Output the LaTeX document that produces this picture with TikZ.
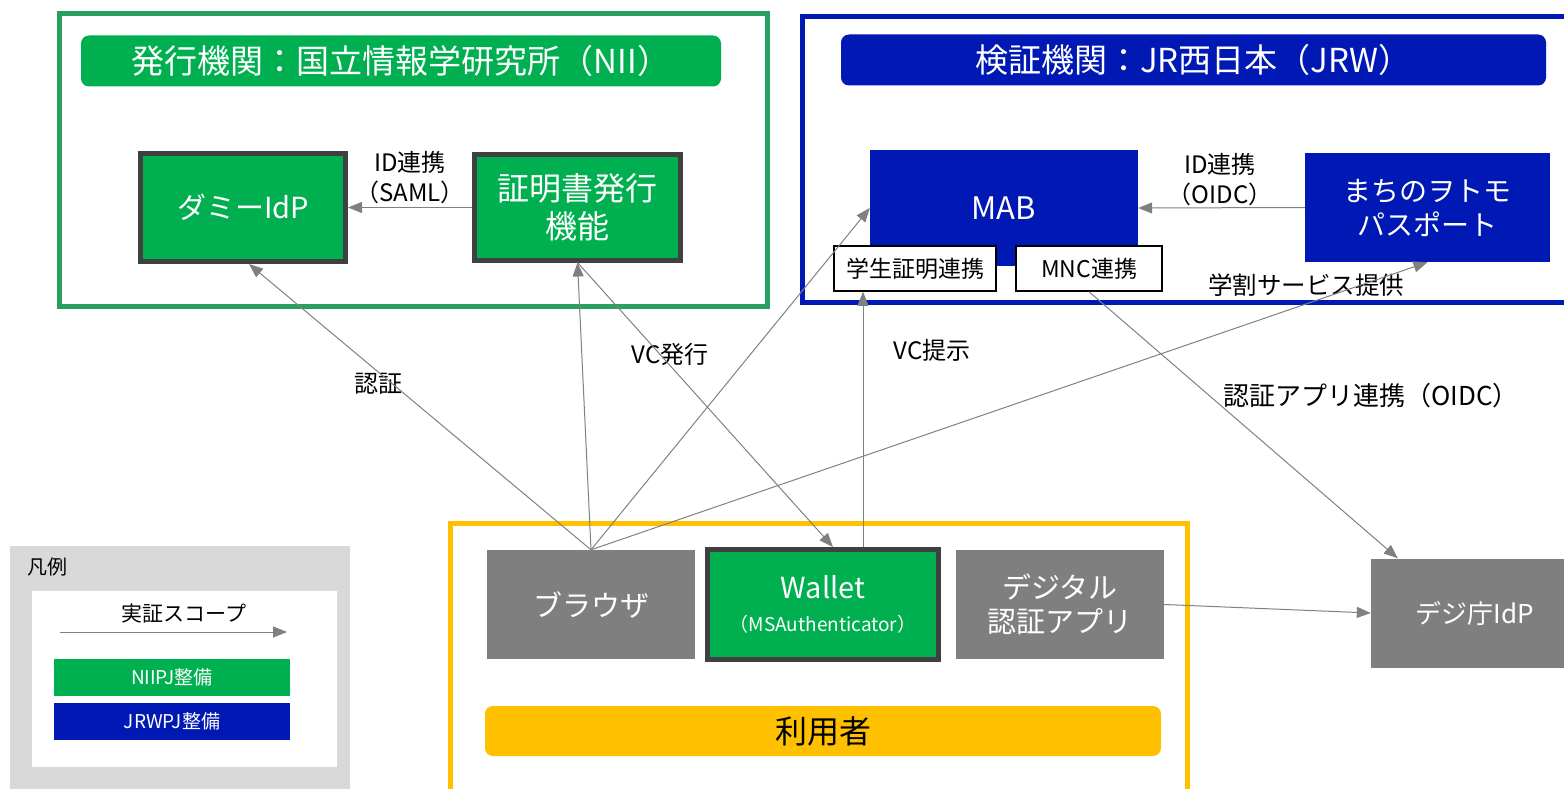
\documentclass[tikz,border=0pt]{standalone}
\usepackage{fontspec}
\setmainfont{Noto Sans CJK JP}
\usetikzlibrary{arrows.meta, positioning}

\definecolor{niigreen}{RGB}{0,176,80}
\definecolor{niiframe}{RGB}{40,160,95}
\definecolor{jrwblue}{RGB}{0,24,180}
\definecolor{usergold}{RGB}{255,192,0}
\definecolor{devgray}{RGB}{127,127,127}
\definecolor{edgegray}{RGB}{128,128,128}
\definecolor{frameline}{RGB}{64,64,64}
\definecolor{legendgray}{RGB}{217,217,217}

\newcommand{\fsz}[2]{\fontsize{#1pt}{#2pt}\selectfont}

\tikzset{
    box/.style={rectangle, inner sep=0pt, minimum width=208pt, minimum height=109pt,
        text=white, align=center, font=\fsz{29}{34}},
    niibox/.style={box, fill=niigreen, draw=frameline, line width=5pt},
    jrwbox/.style={box, fill=jrwblue},
    devbox/.style={box, fill=devgray},
    banner/.style={rectangle, rounded corners=8pt, inner sep=0pt, minimum height=51pt,
        text=white, font=\fsz{33}{38}},
    tag/.style={rectangle, draw=black, line width=1.5pt, fill=white, inner sep=0pt,
        minimum height=45pt, font=\fsz{23}{26}},
    lbl/.style={inner sep=0pt, align=center, font=\fsz{24}{30}},
    legendbar/.style={rectangle, inner sep=0pt, minimum width=236pt, minimum height=37pt,
        text=white, font=\fsz{19}{22}},
    flow/.style={->, color=edgegray, line width=1pt}
}

\begin{document}
\begin{tikzpicture}[x=1pt, y=-1pt, >={Triangle[length=14pt, width=11pt]}]
    \useasboundingbox (0,0) rectangle (1564,789);
    \clip (0,0) rectangle (1564,789);

    % frames
    \draw[niiframe, line width=5pt] (59,14) rectangle (767,306);
    \draw[jrwblue, line width=5pt] (802,17) rectangle (1590,302);
    \draw[usergold, line width=5pt] (450,523) rectangle (1187,820);

    % issuer
    \node[banner, fill=niigreen, minimum width=640pt] (niihead) at (401,61) {発行機関：国立情報学研究所（NII）};
    \node[niibox, minimum width=205pt, minimum height=108pt] (idp) at (243,207.5) {ダミーIdP};
    \node[niibox, minimum width=206pt, minimum height=105pt, font=\fsz{32}{38}] (cert) [right=124pt of idp] {証明書発行\\機能};

    % verifier
    \node[banner, fill=jrwblue, minimum width=705pt] (jrwhead) at (1193.5,60) {検証機関：JR西日本（JRW）};
    \node[jrwbox, minimum width=268pt, minimum height=116pt, font=\fsz{31}{34}] (mab) at (1004,208) {MAB};
    \node[jrwbox, minimum width=245pt, font=\fsz{28}{34}] (passport) at (1427.5,207.5) {まちのヲトモ\\パスポート};
    \node[tag, minimum width=162pt] (student) at (915,268.5) {学生証明連携};
    \node[tag, minimum width=146pt] (mnc) at (1089,268.5) {MNC連携};

    % user
    \node[devbox] (browser) at (591,604.5) {ブラウザ};
    \node[niibox, minimum width=231pt, minimum height=110pt, font=\fsz{29}{33}] (wallet) at (823,604.5)
        {Wallet\\{\fsz{19}{20}（MSAuthenticator）}};
    \node[devbox] (digiapp) at (1060,604.5) {デジタル\\認証アプリ};
    \node[banner, fill=usergold, minimum width=676pt, minimum height=50pt, text=black, font=\fsz{32}{36}] (user) at (823,731) {利用者};
    \node[devbox, font=\fsz{26}{30}] (dejicho) at (1475,613) {デジ庁IdP};

    % legend
    \fill[legendgray] (10,546) rectangle (350,800);
    \fill[white] (32,591) rectangle (337,767);
    \node[lbl, anchor=west, font=\fsz{20}{24}] (legend) at (27,567) {凡例};
    \node[lbl, font=\fsz{21}{24}] (scope) at (184,614) {実証スコープ};
    \coordinate (scopeL) at (60,632);
    \coordinate (scopeR) at (287,632);
    \draw[flow] (scopeL) -- (scopeR);
    \node[legendbar, fill=niigreen] (niipj) at (172,677.5) {NIIPJ整備};
    \node[legendbar, fill=jrwblue] (jrwpj) at (172,721.5) {JRWPJ整備};

    % labels
    \node[lbl] (saml) at (410,178) {ID連携\\（SAML）};
    \node[lbl] (oidc) at (1220,180) {ID連携\\（OIDC）};
    \node[lbl] (authlbl) at (378,384) {認証};
    \node[lbl] (vcissue) at (670,354) {VC発行};
    \node[lbl] (vcshow) at (932,350) {VC提示};
    \node[lbl, font=\fsz{24.5}{30}] (discount) at (1306,285) {学割サービス提供};
    \node[lbl, font=\fsz{26}{30}] (applink) at (1371,396) {認証アプリ連携（OIDC）};

    % connectors
    \path[flow]
        (cert.west)     edge (idp.east)
        (passport.west) edge (mab.east)
        (browser.north) edge ([xshift=6pt]idp.south)
                        edge (cert.south)
                        edge (mab.west)
                        edge (passport.south)
        (cert.south)    edge ([xshift=10pt]wallet.north)
        ([xshift=40pt]wallet.north) edge ([xshift=40pt]wallet.north |- student.south)
        (mnc.south)     edge ([xshift=27pt]dejicho.north west)
        (digiapp.east)  edge (dejicho.west);

\end{tikzpicture}
\end{document}
